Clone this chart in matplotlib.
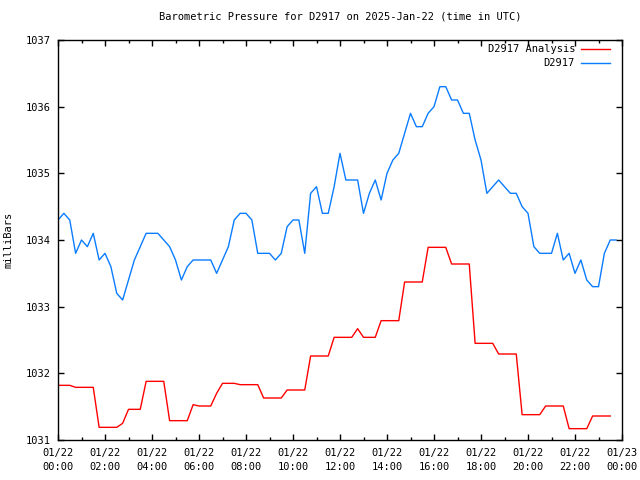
import numpy as np
import pandas as pd
import matplotlib
matplotlib.use('Agg')
import matplotlib.pyplot as plt
import matplotlib.dates as mdates

# 15 minute readings, 2025-01-22 UTC
station = [1034.3, 1034.4, 1034.3, 1033.8, 1034.0, 1033.9, 1034.1, 1033.7,
           1033.8, 1033.6, 1033.2, 1033.1, 1033.4, 1033.7, 1033.9, 1034.1,
           1034.1, 1034.1, 1034.0, 1033.9, 1033.7, 1033.4, 1033.6, 1033.7,
           1033.7, 1033.7, 1033.7, 1033.5, 1033.7, 1033.9, 1034.3, 1034.4,
           1034.4, 1034.3, 1033.8, 1033.8, 1033.8, 1033.7, 1033.8, 1034.2,
           1034.3, 1034.3, 1033.8, 1034.7, 1034.8, 1034.4, 1034.4, 1034.8,
           1035.3, 1034.9, 1034.9, 1034.9, 1034.4, 1034.7, 1034.9, 1034.6,
           1035.0, 1035.2, 1035.3, 1035.6, 1035.9, 1035.7, 1035.7, 1035.9,
           1036.0, 1036.3, 1036.3, 1036.1, 1036.1, 1035.9, 1035.9, 1035.5,
           1035.2, 1034.7, 1034.8, 1034.9, 1034.8, 1034.7, 1034.7, 1034.5,
           1034.4, 1033.9, 1033.8, 1033.8, 1033.8, 1034.1, 1033.7, 1033.8,
           1033.5, 1033.7, 1033.4, 1033.3, 1033.3, 1033.8, 1034.0, 1034.0]

analysis = [1031.82, 1031.82, 1031.82, 1031.79, 1031.79, 1031.79, 1031.79, 1031.19,
            1031.19, 1031.19, 1031.19, 1031.25, 1031.46, 1031.46, 1031.46, 1031.88,
            1031.88, 1031.88, 1031.88, 1031.29, 1031.29, 1031.29, 1031.29, 1031.53,
            1031.51, 1031.51, 1031.51, 1031.70, 1031.85, 1031.85, 1031.85, 1031.83,
            1031.83, 1031.83, 1031.83, 1031.63, 1031.63, 1031.63, 1031.63, 1031.75,
            1031.75, 1031.75, 1031.75, 1032.26, 1032.26, 1032.26, 1032.26, 1032.54,
            1032.54, 1032.54, 1032.54, 1032.67, 1032.54, 1032.54, 1032.54, 1032.79,
            1032.79, 1032.79, 1032.79, 1033.37, 1033.37, 1033.37, 1033.37, 1033.89,
            1033.89, 1033.89, 1033.89, 1033.64, 1033.64, 1033.64, 1033.64, 1032.45,
            1032.45, 1032.45, 1032.45, 1032.29, 1032.29, 1032.29, 1032.29, 1031.38,
            1031.38, 1031.38, 1031.38, 1031.51, 1031.51, 1031.51, 1031.51, 1031.17,
            1031.17, 1031.17, 1031.17, 1031.36, 1031.36, 1031.36, 1031.36]

t_station = pd.date_range('2025-01-22 00:00', periods=len(station), freq='15min')
t_analysis = pd.date_range('2025-01-22 00:00', periods=len(analysis), freq='15min')

plt.rcParams['font.family'] = ['DejaVu Sans Mono']
plt.rcParams['font.size'] = 7.5

fig = plt.figure(figsize=(6.4, 4.8), dpi=100)
ax = fig.add_axes([58 / 640, 40 / 480, 564 / 640, 400 / 480])

red = '#ff0000'
blue = '#0a7cff'
ax.plot(t_analysis, analysis, color=red, lw=1.0)
ax.plot(t_station, station, color=blue, lw=1.0)

ax.set_xlim(pd.Timestamp('2025-01-22 00:00'), pd.Timestamp('2025-01-23 00:00'))
ax.set_ylim(1031, 1037)
ax.set_yticks(np.arange(1031, 1038, 1))
ax.yaxis.set_major_formatter(matplotlib.ticker.FormatStrFormatter('%d'))

ax.xaxis.set_major_locator(mdates.HourLocator(byhour=range(0, 24, 2)))
ax.xaxis.set_minor_locator(mdates.HourLocator(byhour=range(1, 24, 2)))
ax.xaxis.set_major_formatter(mdates.DateFormatter('%m/%d\n%H:%M'))

ax.tick_params(which='both', direction='in', top=True, right=True, width=1.0, color='black')
ax.tick_params(which='major', length=4)
ax.tick_params(which='minor', length=2)
ax.tick_params(axis='y', pad=5)
ax.tick_params(axis='x', pad=6)
fig.canvas.draw()
for lab in ax.get_xticklabels():
    lab.set_linespacing(1.45)

for s in ax.spines.values():
    s.set_linewidth(1.0)

ax.set_title('Barometric Pressure for D2917 on 2025-Jan-22 (time in UTC)', pad=15, fontsize=7.5)
ax.set_ylabel('milliBars', labelpad=9)

# gnuplot style key: right aligned text, sample line after it
keys = [('D2917 Analysis', red), ('D2917', blue)]
for k, (name, c) in enumerate(keys):
    yk = 1 - (9 + 14 * k) / 400
    ax.text(517 / 564, yk, name, transform=ax.transAxes, ha='right', va='center')
    ax.plot([523 / 564, 552 / 564], [yk, yk], transform=ax.transAxes, color=c, lw=1.0)

fig.savefig('out.png', dpi=100)
